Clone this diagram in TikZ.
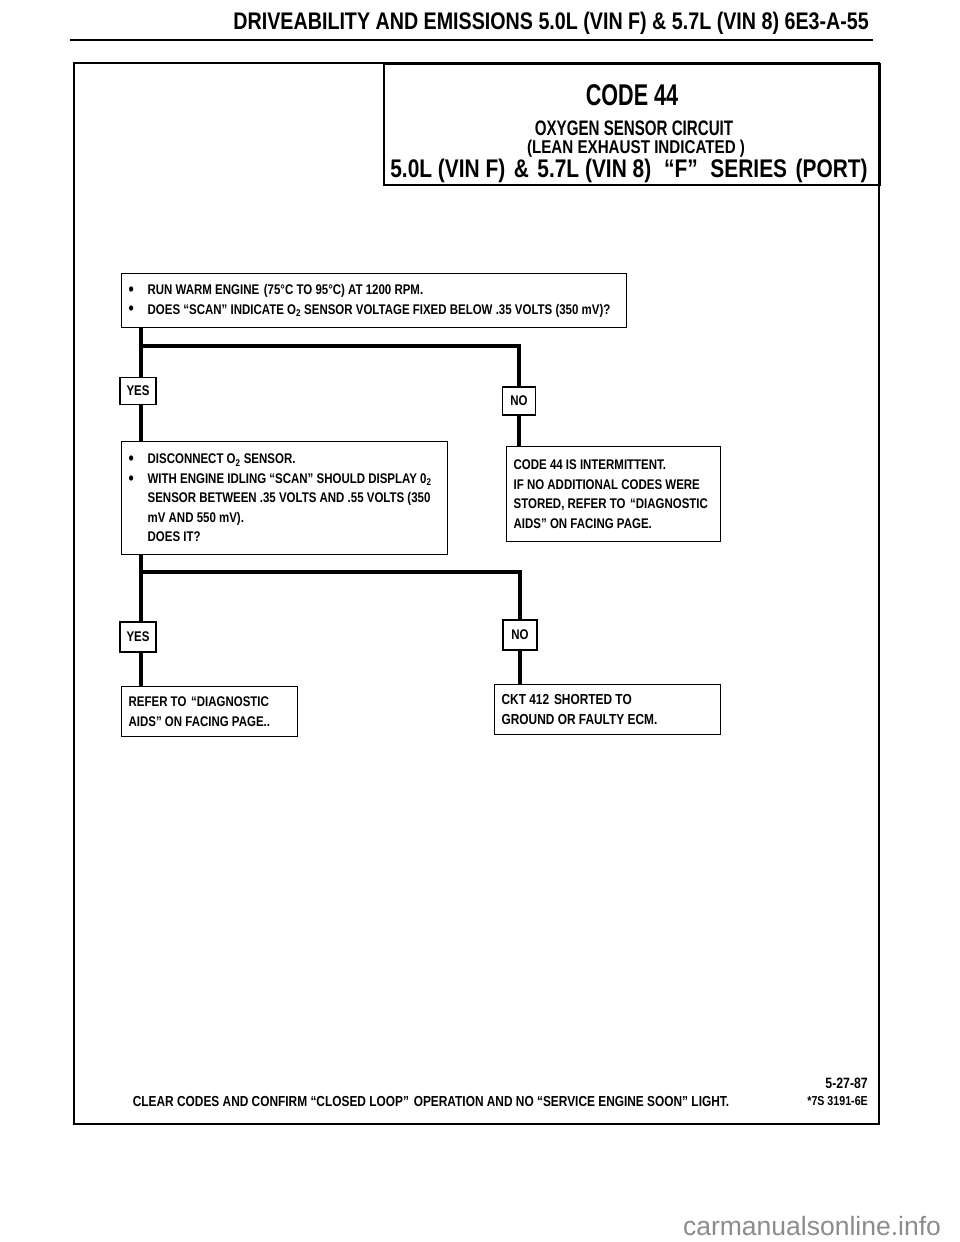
\documentclass[tikz,border=0pt]{standalone}
\usepackage{fontspec}
\setmainfont{Liberation Sans}[FakeStretch=0.82]
\newfontfamily\condB{Liberation Sans}[FakeStretch=0.72]
\newfontfamily\wmfont{Liberation Sans}
\definecolor{wmgray}{HTML}{8C8C8C}
\newcommand{\bul}{\makebox[19pt][l]{\raisebox{-0.6pt}{\scalebox{1.3}{\textbullet}}}}
\newcommand{\ind}{\hspace*{19pt}}
\begin{document}
\begin{tikzpicture}[x=1pt,y=-1pt,
  framed/.style={line width=2.2pt},
  boxnode/.style={draw, line width=1.3pt, anchor=north west, inner xsep=7pt, inner ysep=0pt,
    align=flush left, font=\fontsize{14}{19.5}\selectfont\bfseries},
  lblnode/.style={draw, line width=1.3pt, inner sep=0pt, fill=white,
    font=\fontsize{14}{16}\selectfont\bfseries},
  conn/.style={line width=4pt, line join=miter},
  plain/.style={inner sep=0pt, font=\bfseries}]
\useasboundingbox (0,0) rectangle (960,1242);
\fill[white] (0,0) rectangle (960,1242);

% header
\node[plain, anchor=east, font=\fontsize{24}{26}\selectfont\bfseries] (hdr) at (869,23)
  {DRIVEABILITY AND EMISSIONS 5.0L (VIN F) \& 5.7L (VIN 8) 6E3-A-55};
\draw[line width=2.5pt] (70,40) -- (873,40);

% frame
\draw[framed] (74,63) rectangle (879,1124);
\node[draw, line width=2.2pt, anchor=north west, minimum width=496pt, minimum height=121pt, inner sep=0pt] (title) at (383,63) {};
\node[plain, font=\condB\fontsize{30}{32}\selectfont\bfseries] (t1) at (632,95) {CODE 44};
\node[plain, font=\condB\fontsize{21}{23}\selectfont\bfseries] (t2) at (634,128) {OXYGEN SENSOR CIRCUIT};
\node[plain, font=\fontsize{18.5}{20}\selectfont\bfseries] (t3) at (636,149) {(LEAN EXHAUST INDICATED )};
\node[plain, font=\fontsize{25.5}{28}\selectfont\bfseries] (t4) at (629,171)
  {5.0L (VIN F)\,\,\&\,\,5.7L (VIN 8)\,\,\,“F”\,\,\,SERIES\,\,(PORT)};

% box 1
\node[boxnode, minimum width=505pt, minimum height=54pt, text width=491pt] (b1) at (121,273)
  {\mbox{\bul RUN WARM ENGINE\,\,(75°C TO 95°C) AT 1200 RPM.}\\
   \mbox{\bul DOES “SCAN” INDICATE O\textsubscript{2} SENSOR VOLTAGE FIXED BELOW .35 VOLTS (350 mV)?}};

% box 2
\node[boxnode, minimum width=326pt, minimum height=113pt, text width=312pt] (b2a) at (121,441)
  {\mbox{\bul DISCONNECT O\textsubscript{2} SENSOR.}\\
   \mbox{\bul WITH ENGINE IDLING “SCAN” SHOULD DISPLAY 0\textsubscript{2}}\\
   \mbox{\ind SENSOR BETWEEN .35 VOLTS AND .55 VOLTS (350}\\
   \mbox{\ind mV AND 550 mV).}\\
   \mbox{\ind DOES IT?}};
\node[boxnode, minimum width=214pt, minimum height=95pt, text width=200pt] (b2b) at (506,446)
  {\mbox{CODE 44 IS INTERMITTENT.}\\
   \mbox{IF NO ADDITIONAL CODES WERE}\\
   \mbox{STORED, REFER TO\,\,“DIAGNOSTIC}\\
   \mbox{AIDS” ON FACING PAGE.}};

% box 3
\node[boxnode, minimum width=176pt, minimum height=50pt, text width=162pt,
  font=\fontsize{14}{20.5}\selectfont\bfseries] (b3a) at (121,686)
  {\mbox{REFER TO\,\,“DIAGNOSTIC}\\ \mbox{AIDS” ON FACING PAGE..}};
\node[boxnode, minimum width=226pt, minimum height=50pt, text width=212pt,
  font=\fontsize{14.5}{20.5}\selectfont\bfseries] (b3b) at (494,684)
  {\mbox{CKT 412\,\,SHORTED TO}\\ \mbox{GROUND OR FAULTY ECM.}};

% labels
\node[lblnode, minimum width=36pt, minimum height=27pt] (y1) at (138,391) {YES};
\node[lblnode, minimum width=33pt, minimum height=28pt] (n1) at (519,401) {NO};
\node[lblnode, minimum width=36pt, minimum height=30pt] (y2) at (138,637) {YES};
\node[lblnode, minimum width=34pt, minimum height=30pt] (n2) at (520,635) {NO};

\coordinate (j1) at (141,346);
\coordinate (j2) at (141,572);

% connectors
\draw[conn] (j1 |- b1.south) -- (j1 |- y1.north);
\draw[conn] (j1 |- y1.south) -- (j1 |- b2a.north);
\draw[conn] (j1) -| (n1.north);
\draw[conn] (n1.south) -- (n1 |- b2b.north);

\draw[conn] (j2 |- b2a.south) -- (j2 |- y2.north);
\draw[conn] (j2 |- y2.south) -- (j2 |- b3a.north);
\draw[conn] (j2) -| (n2.north);
\draw[conn] (n2.south) -- (n2 |- b3b.north);

% footer
\node[plain, anchor=east, font=\fontsize{15}{17}\selectfont\bfseries] (date) at (868,1083) {5-27-87};
\node[plain, anchor=east, font=\fontsize{13}{15}\selectfont\bfseries] (ref) at (868,1101) {*7S 3191-6E};
\node[plain, font=\fontsize{14.5}{16}\selectfont\bfseries] (clear) at (431,1101)
  {CLEAR CODES AND CONFIRM “CLOSED LOOP”\,\,OPERATION AND NO “SERVICE ENGINE SOON” LIGHT.};

% watermark
\node[inner sep=0pt, text=wmgray, font=\wmfont\fontsize{26.5}{28}\selectfont] (wm) at (812,1226) {carmanualsonline.info};
\end{tikzpicture}
\end{document}
